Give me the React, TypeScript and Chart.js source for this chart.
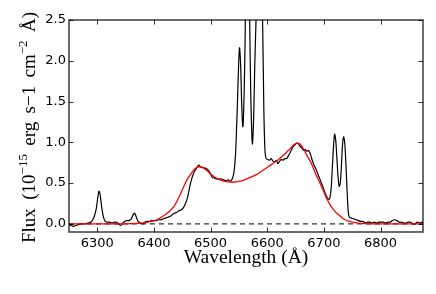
import React, { useEffect, useRef } from "react";
import { Chart, registerables } from "chart.js";

Chart.register(...registerables);

const specWave = [
  6250, 6254, 6258, 6262, 6266, 6272, 6278, 6284, 6288, 6292, 6295, 6298, 6301, 6303, 6305, 6307, 6309, 6311, 6314, 6318,
  6322, 6326, 6330, 6334, 6338, 6341, 6344, 6348, 6352, 6356, 6360, 6363, 6366, 6369, 6372, 6376, 6380, 6384, 6388, 6392,
  6396, 6400, 6404, 6408, 6412, 6416, 6420, 6424, 6428, 6432, 6436, 6440, 6444, 6448, 6452, 6455, 6458, 6461, 6464, 6467,
  6470, 6473, 6476, 6479, 6482, 6485, 6488, 6491, 6494, 6497, 6500, 6503, 6507, 6511, 6515, 6519, 6523, 6527, 6531, 6535,
  6538, 6541, 6544, 6547, 6549, 6551, 6553, 6555, 6557, 6559, 6561, 6563, 6565, 6567, 6569, 6571, 6573, 6574, 6576, 6578,
  6580, 6583, 6586, 6589, 6592, 6594, 6596, 6598, 6601, 6604, 6607, 6610, 6613, 6616, 6619, 6622, 6625, 6628, 6631, 6634,
  6637, 6640, 6643, 6646, 6649, 6652, 6655, 6658, 6661, 6664, 6667, 6670, 6673, 6676, 6679, 6682, 6686, 6690, 6694, 6698,
  6702, 6706, 6709, 6711, 6713, 6715, 6717, 6719, 6721, 6723, 6725, 6727, 6729, 6731, 6733, 6735, 6737, 6739, 6741, 6743,
  6745, 6749, 6753, 6757, 6761, 6765, 6769, 6773, 6777, 6781, 6785, 6789, 6793, 6797, 6801, 6805, 6809, 6813, 6817, 6821,
  6825, 6829, 6833, 6837, 6841, 6845, 6849, 6853, 6857, 6861, 6865, 6869, 6873, 6875,
];
const specFlux = [
  -0.01, -0.02, -0.03, -0.02, -0.01, 0.0, 0.0, 0.01, 0.02, 0.05, 0.1, 0.18, 0.33, 0.4, 0.36, 0.24, 0.15, 0.08, 0.03, 0.02,
  0.02, 0.01, 0.02, 0.02, 0.0, -0.02, 0.0, 0.03, 0.04, 0.04, 0.06, 0.11, 0.13, 0.08, 0.03, 0.01, 0.0, 0.02, 0.03, 0.03,
  0.04, 0.04, 0.04, 0.05, 0.05, 0.06, 0.07, 0.08, 0.09, 0.11, 0.13, 0.14, 0.16, 0.17, 0.2, 0.24, 0.29, 0.38, 0.48, 0.56,
  0.62, 0.66, 0.69, 0.72, 0.7, 0.69, 0.69, 0.68, 0.67, 0.65, 0.61, 0.57, 0.56, 0.55, 0.55, 0.55, 0.54, 0.53, 0.54, 0.52,
  0.55, 0.62, 0.85, 1.4, 1.85, 2.16, 1.95, 1.45, 1.19, 1.55, 2.3, 3.8, 4.6, 3.8, 2.5, 1.55, 1.05, 0.98, 1.3, 1.95,
  2.45, 3.3, 3.6, 3.2, 2.4, 1.4, 0.9, 0.8, 0.79, 0.78, 0.8, 0.77, 0.76, 0.78, 0.74, 0.77, 0.79, 0.78, 0.8, 0.8,
  0.83, 0.87, 0.91, 0.95, 0.97, 0.99, 0.98, 0.95, 0.93, 0.9, 0.91, 0.89, 0.9, 0.86, 0.79, 0.73, 0.67, 0.6, 0.53, 0.46,
  0.38, 0.32, 0.3, 0.33, 0.45, 0.7, 0.95, 1.1, 1.02, 0.8, 0.58, 0.46, 0.5, 0.72, 0.98, 1.07, 0.98, 0.72, 0.4, 0.15,
  0.08, 0.07, 0.06, 0.05, 0.04, 0.03, 0.03, 0.01, 0.02, 0.02, 0.01, 0.02, 0.01, 0.02, 0.02, 0.02, 0.01, 0.02, 0.02, 0.04,
  0.05, 0.04, 0.02, 0.02, 0.01, 0.01, 0.02, 0.02, 0.0, 0.0, 0.02, 0.01, 0.02, 0.01,
];

const fitWave = [
  6250, 6300, 6350, 6370, 6385, 6395, 6405, 6415, 6425, 6435, 6445, 6452, 6460, 6467, 6473, 6479, 6485, 6492, 6500, 6510,
  6520, 6530, 6540, 6550, 6560, 6570, 6580, 6590, 6600, 6610, 6620, 6630, 6640, 6647, 6652, 6657, 6663, 6670, 6678, 6685,
  6693, 6700, 6705, 6712, 6720, 6728, 6735, 6745, 6755, 6765, 6780, 6875,
];
const fitFlux = [
  0, 0, 0, 0.005, 0.015, 0.03, 0.05, 0.09, 0.14, 0.21, 0.34, 0.45, 0.56, 0.63, 0.68, 0.7, 0.695, 0.66, 0.61, 0.56,
  0.53, 0.515, 0.51, 0.52, 0.54, 0.57, 0.6, 0.645, 0.69, 0.74, 0.79, 0.85, 0.92, 0.97, 0.99, 0.985, 0.93, 0.84, 0.74, 0.62,
  0.5, 0.39, 0.31, 0.22, 0.15, 0.1, 0.06, 0.03, 0.015, 0.005, 0, 0,
];

const zeroWave = [6250, 6875];
const zeroFlux = [0, 0];

const xTicks = [6300, 6400, 6500, 6600, 6700, 6800];
const yTicks = [0, 0.5, 1.0, 1.5, 2.0, 2.5];

const xMin = 6250;
const xMax = 6875;
const yMin = -0.1;
const yMax = 2.5;

const xTitle = "Wavelength (Å)";
// y-axis title pieces: [text, isSuperscript]
const yTitleParts: [string, boolean][] = [
  ["Flux", false],
  [" (10", false],
  ["−15", true],
  [" erg", false],
  [" s−1", false],
  [" cm", false],
  ["−2", true],
  [" Å)", false],
];

const toPts = (xs: number[], ys: number[]) => xs.map((x, i) => ({ x, y: ys[i] }));

const framePlugin = {
  id: "frame",
  afterDatasetsDraw(chart: any) {
    const { ctx, chartArea } = chart;
    const { left, right, top, bottom } = chartArea;
    const xs = chart.scales.x;
    const ys = chart.scales.y;
    const tl = 4.5;
    ctx.save();
    ctx.strokeStyle = "rgba(0,0,0,0.8)";
    ctx.lineWidth = 1;
    ctx.beginPath();
    xTicks.forEach((v) => {
      const px = Math.round(xs.getPixelForValue(v)) + 0.5;
      ctx.moveTo(px, bottom);
      ctx.lineTo(px, bottom - tl);
      ctx.moveTo(px, top);
      ctx.lineTo(px, top + tl);
    });
    yTicks.forEach((v) => {
      const py = Math.round(ys.getPixelForValue(v)) + 0.5;
      ctx.moveTo(left, py);
      ctx.lineTo(left + tl, py);
      ctx.moveTo(right, py);
      ctx.lineTo(right - tl, py);
    });
    ctx.stroke();
    ctx.strokeStyle = "rgba(0,0,0,0.72)";
    ctx.lineWidth = 1.6;
    ctx.strokeRect(left, top, right - left, bottom - top);
    ctx.restore();
  },
  afterDraw(chart: any) {
    const { ctx, chartArea } = chart;
    const normal = "19px 'Liberation Serif'";
    const sup = "13px 'Liberation Serif'";
    const targetLen = 231;
    ctx.save();
    ctx.fillStyle = "#000";
    ctx.textBaseline = "alphabetic";
    ctx.textAlign = "left";
    const widths = yTitleParts.map(([t, s]) => {
      ctx.font = s ? sup : normal;
      return ctx.measureText(t).width;
    });
    const raw = widths.reduce((a, b) => a + b, 0);
    const gaps = yTitleParts.filter(([t]) => t.startsWith(" ")).length;
    const extra = Math.max(0, (targetLen - raw) / gaps);
    const total = raw + extra * gaps;
    const cy = (chartArea.top + chartArea.bottom) / 2 + 1.5;
    ctx.translate(35, cy);
    ctx.rotate(-Math.PI / 2);
    let x = -total / 2;
    yTitleParts.forEach(([t, s], i) => {
      if (t.startsWith(" ")) x += extra;
      ctx.font = s ? sup : normal;
      ctx.fillText(t, x, s ? -8 : 0);
      x += widths[i];
    });
    ctx.restore();
  },
};

export default function App() {
  const ref = useRef<HTMLCanvasElement | null>(null);
  useEffect(() => {
    if (!ref.current) return;
    const chart = new Chart(ref.current, {
      type: "line",
      data: {
        datasets: [
          {
            data: toPts(fitWave, fitFlux),
            borderColor: "#ff0000",
            borderWidth: 1.3,
            pointRadius: 0,
            cubicInterpolationMode: "monotone",
            fill: false,
          },
          {
            data: toPts(specWave, specFlux),
            borderColor: "#000000",
            borderWidth: 1.2,
            pointRadius: 0,
            tension: 0.3,
            fill: false,
          },
          {
            data: toPts(zeroWave, zeroFlux),
            borderColor: "#333333",
            borderWidth: 1.2,
            borderDash: [5, 4],
            pointRadius: 0,
            fill: false,
          },
        ],
      },
      options: {
        animation: false,
        responsive: false,
        layout: { padding: { top: 20, right: 13, left: 0, bottom: 0 } },
        plugins: { legend: { display: false }, tooltip: { enabled: false } },
        scales: {
          x: {
            type: "linear",
            min: xMin,
            max: xMax,
            afterBuildTicks: (s: any) => {
              s.ticks = xTicks.map((v) => ({ value: v }));
            },
            afterFit: (s: any) => {
              s.height = 62;
            },
            grid: { display: false, drawTicks: false },
            border: { display: false },
            ticks: {
              padding: 4,
              color: "#000",
              maxRotation: 0,
              autoSkip: false,
              font: { family: "DejaVu Sans", size: 13 },
              callback: (v: any) => String(v),
            },
            title: {
              display: true,
              text: xTitle,
              color: "#000",
              font: { family: "Liberation Serif", size: 19.5 },
              padding: { top: 0, bottom: 24 },
            },
          },
          y: {
            type: "linear",
            min: yMin,
            max: yMax,
            afterBuildTicks: (s: any) => {
              s.ticks = yTicks.map((v) => ({ value: v }));
            },
            afterFit: (s: any) => {
              s.width = 69;
            },
            grid: { display: false, drawTicks: false },
            border: { display: false },
            ticks: {
              padding: 3,
              color: "#000",
              autoSkip: false,
              font: { family: "DejaVu Sans", size: 13 },
              callback: (v: any) => Number(v).toFixed(1),
            },
            title: { display: false },
          },
        },
      },
      plugins: [framePlugin],
    });
    return () => chart.destroy();
  }, []);
  return (
    <div style={{ position: "absolute", left: 0, top: 0, width: 436, height: 294, background: "#fff" }}>
      <canvas ref={ref} width={436} height={294} style={{ display: "block" }} />
    </div>
  );
}
